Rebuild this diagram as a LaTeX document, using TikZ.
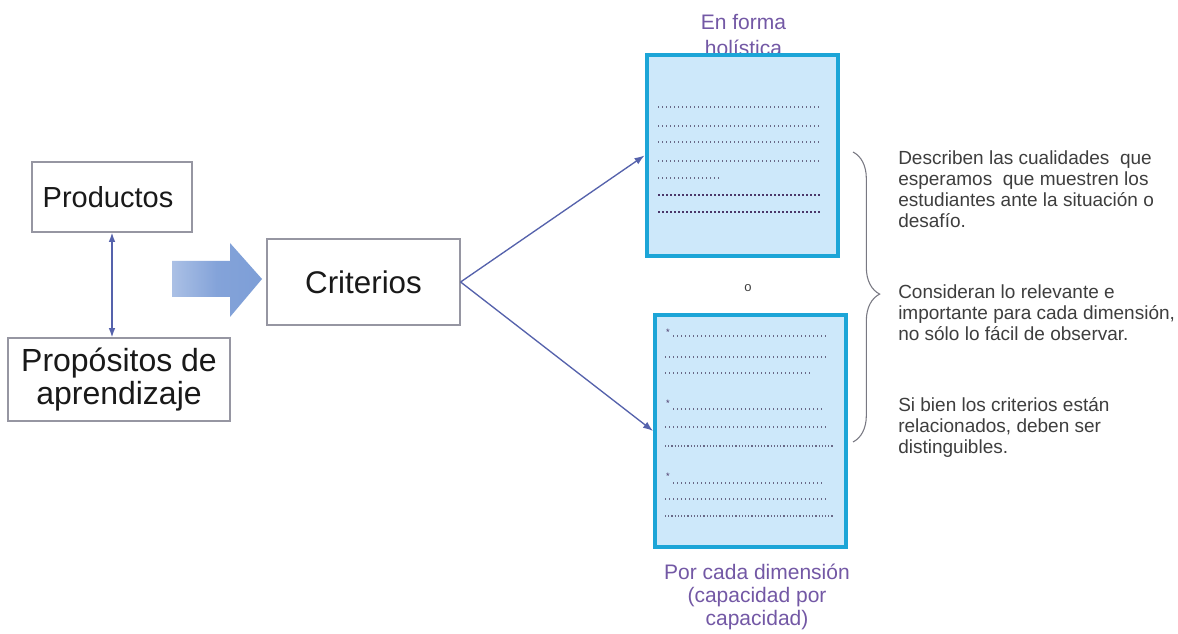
\documentclass[tikz,border=0pt]{standalone}
\usepackage{fontspec}
\setmainfont{Liberation Sans}
\usetikzlibrary{arrows.meta,decorations.pathreplacing}
\definecolor{boxgray}{RGB}{150,150,162}
\definecolor{connblue}{RGB}{85,98,172}
\definecolor{bigarrow}{RGB}{125,158,215}
\definecolor{cyanb}{RGB}{28,165,215}
\definecolor{fillb}{RGB}{205,232,250}
\definecolor{purp}{RGB}{115,88,165}
\definecolor{txtgray}{RGB}{62,62,62}
\definecolor{dotlight}{RGB}{105,105,135}
\definecolor{dotdark}{RGB}{75,55,105}
\begin{document}
\begin{tikzpicture}[x=0.75pt,y=-0.75pt,
  plainbox/.style={draw=boxgray,line width=0.9pt,fill=white,inner sep=0pt,text=black!90},
  sheet/.style={draw=cyanb,line width=3pt,fill=fillb,inner sep=0pt,minimum width=143.25pt},
  conn/.style={draw=connblue,line width=1pt},
  tipa/.style={-{Latex[length=7.5pt,width=5.5pt]}},
  dotrow/.style={draw=dotlight,line width=0.9pt,dash pattern=on 0.9pt off 2.1pt},
  dotrowdense/.style={draw=dotlight,line width=0.9pt,dash pattern=on 0.9pt off 1.5pt},
  dotrowdark/.style={draw=dotdark,line width=1.3pt,dash pattern=on 1.2pt off 1.8pt},
  para/.style={anchor=north west,inner sep=0pt,align=left,text=txtgray,font=\fontsize{14.25pt}{15.75pt}\selectfont},
  caption/.style={anchor=north,inner sep=0pt,align=center,text=purp}]
\path[fill=white] (0,0) rectangle (1178,634);
\useasboundingbox (0,0) rectangle (1178,634);

% left boxes
\node[plainbox,minimum width=120pt,minimum height=52.5pt,font=\fontsize{21.75pt}{24pt}\selectfont] (prod) at (112,197) {Productos\hspace*{6pt}};
\node[plainbox,minimum width=166.5pt,minimum height=62.25pt,align=center,font=\fontsize{24pt}{24.75pt}\selectfont] (prop) at (119,379.5) {Propósitos de\\aprendizaje};
\draw[conn,{Latex[length=7pt,width=5pt]}-{Latex[length=7pt,width=5pt]}] (prod.south) -- (prod.south |- prop.north);

% big arrow
\path[left color=bigarrow!65!white,right color=bigarrow,middle color=bigarrow!95!white]
  (172,261) -- (230,261) -- (230,243) -- (262,279) -- (230,317) -- (230,297) -- (172,297) -- cycle;

\node[plainbox,minimum width=144.75pt,minimum height=64.5pt,font=\fontsize{23.5pt}{24pt}\selectfont] (crit) at (363.5,282) {Criterios};

% top caption (partly hidden by the sheet)
\node[caption,font=\fontsize{15.75pt}{19.5pt}\selectfont] (captop) at (743.5,14) {En forma\\holística};

% sheets
\node[sheet,minimum height=150.75pt] (topbox) at (742,155.5) {};
\node[sheet,minimum height=174pt] (botbox) at (750.5,431) {};

% dotted rows, top sheet
\foreach \yy in {107,126,142,161} \draw[dotrow] (658,\yy) -- (820,\yy);
\draw[dotrow] (658,178) -- (720,178);
\foreach \yy in {195,212} \draw[dotrowdark] (658,\yy) -- (820,\yy);

% dotted rows, bottom sheet
\foreach \ys in {329,400,473} \node[inner sep=0pt,text=dotdark,font=\fontsize{7pt}{8pt}\selectfont] at (668,\ys+3) {*};
\draw[dotrow] (673,336) -- (828,336);
\draw[dotrow] (665,357) -- (828,357);
\draw[dotrow] (665,373) -- (812,373);
\draw[dotrow] (673,409) -- (822,409);
\draw[dotrow] (665,427) -- (828,427);
\draw[dotrowdense] (665,446) -- (833,446);
\draw[dotrow] (673,483) -- (822,483);
\draw[dotrow] (665,499) -- (828,499);
\draw[dotrowdense] (665,516) -- (833,516);

\node[inner sep=0pt,text=txtgray,font=\fontsize{9.75pt}{11pt}\selectfont] (orw) at (748,288) {o};

\node[caption,font=\fontsize{15.75pt}{17.25pt}\selectfont] (capbot) at (757,564) {Por cada dimensión\\(capacidad por\\capacidad)};

% connectors
\draw[conn,tipa] (crit.east) -- (topbox.west);
\draw[conn,tipa] (crit.east) -- (botbox.west);

% brace
\coordinate (bt) at (853,152);
\coordinate (bb) at (853,442);
\draw[draw=boxgray!80!black,line width=0.8pt,decorate,decoration={brace,amplitude=20pt,aspect=0.49}] (bt) -- (bb);

% right texts
\node[para] (t1) at (898,150) {Describen las cualidades \ que\\esperamos \ que muestren los\\estudiantes ante la situación o\\desafío.};
\node[para] (t2) at (898,284) {Consideran lo relevante e\\importante para cada dimensión,\\no sólo lo fácil de observar.};
\node[para] (t3) at (898,397) {Si bien los criterios están\\relacionados, deben ser\\distinguibles.};
\end{tikzpicture}
\end{document}
